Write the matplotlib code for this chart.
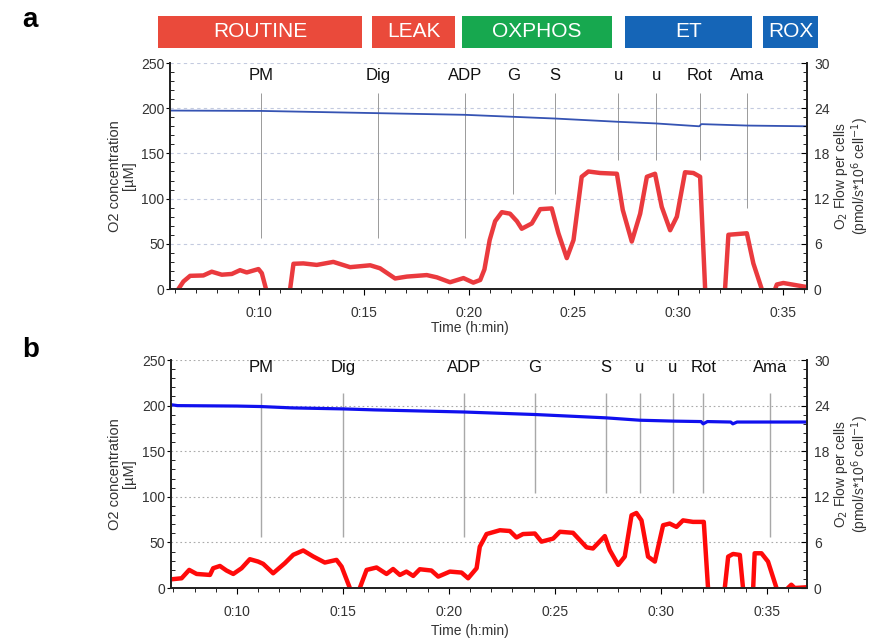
import matplotlib
matplotlib.use("Agg")
import matplotlib.pyplot as plt
import matplotlib.transforms as mtransforms
from matplotlib.ticker import MultipleLocator, FuncFormatter
import numpy as np

plt.rcParams['font.family'] = ['Liberation Sans', 'DejaVu Sans']

nan = np.nan

# ---- phase banner (panel a, minutes) ----
phase_names = ['ROUTINE', 'LEAK', 'OXPHOS', 'ET', 'ROX']
phase_start = [5.18, 15.39, 19.69, 27.46, 34.05]
phase_end = [14.91, 19.35, 26.84, 33.52, 36.67]
phase_colors = ['#ea4a3b', '#ea4a3b', '#17a84f', '#1565b7', '#1565b7']

# ---- panel a ----
a_xlim = (5.75, 36.14)
a_events = ['PM', 'Dig', 'ADP', 'G', 'S', 'u', 'u', 'Rot', 'Ama']
a_event_t = [10.1, 15.68, 19.83, 22.12, 24.12, 27.13, 28.94, 31.04, 33.28]
a_event_bottom = [56, 56, 56, 105, 105, 143, 143, 143, 90]
a_event_top = 217

a_o2_t = [5.75, 10.1, 15.7, 19.8, 24.1, 27.1, 28.9, 31.0, 31.1, 33.3, 36.14]
a_o2 = [197.4, 197.0, 194.5, 192.7, 188.6, 185.0, 183.2, 180.0, 182.4, 180.8, 180.0]

a_flow_t = [6.15, 6.39, 6.71, 7.34, 7.74, 8.22, 8.7, 9.09, 9.41, 9.97, 10.13, 10.33, 10.9,
            11.48, 11.64, 12.11, 12.75, 13.54, 14.34, 15.3, 15.77, 16.49, 17.05, 18.0,
            18.48, 19.11, 19.75, 20.22, 20.55, 20.75, 21.0, 21.26, 21.58, 21.97, 22.3,
            22.53, 23.01, 23.41, 23.96, 24.28, 24.68, 25.0, 25.39, 25.71, 26.27, 27.07,
            27.35, 27.78, 28.18, 28.5, 28.89, 29.21, 29.61, 29.93, 30.32, 30.72, 31.04,
            31.28, 31.8, 32.23, 32.39, 33.27, 33.58, 33.98, 34.3, 34.62, 34.7, 35.01,
            36.05, 36.14]
a_flow = [0, 1.0, 1.75, 1.8, 2.3, 1.9, 2.0, 2.5, 2.2, 2.65, 2.1, 0, nan,
          0, 3.35, 3.4, 3.2, 3.6, 2.9, 3.15, 2.75, 1.4, 1.65, 1.85,
          1.55, 0.9, 1.45, 0.85, 1.2, 2.6, 6.5, 9.0, 10.2, 10.0, 9.0,
          8.0, 8.7, 10.6, 10.7, 7.4, 4.1, 6.5, 14.9, 15.6, 15.4, 15.3,
          10.5, 6.3, 10.0, 14.9, 15.3, 10.9, 7.8, 9.6, 15.5, 15.4, 14.9,
          0, nan, 0, 7.2, 7.4, 3.4, 0, nan, 0, 0.6, 0.8,
          0.3, 0.3]

# ---- panel b ----
b_xlim = (6.89, 36.9)
b_events = ['PM', 'Dig', 'ADP', 'G', 'S', 'u', 'u', 'Rot', 'Ama']
b_event_t = [11.12, 15.02, 20.7, 24.07, 27.4, 29.0, 30.57, 32.0, 35.14]
b_event_bottom = [56, 56, 56, 104, 104, 104, 104, 104, 56]
b_event_top = 214

b_o2_t = [6.89, 7.2, 10.0, 11.1, 12.6, 15.0, 16.5, 20.7, 24.1, 27.4, 29.0, 30.6,
          31.9, 32.0, 32.2, 33.3, 33.4, 33.6, 36.9]
b_o2 = [201, 200, 199.5, 199, 197.5, 196.4, 195.3, 193, 190.2, 186.6, 184, 183,
        182.5, 180, 182.5, 182, 180, 182, 182]

b_flow_t = [6.92, 7.39, 7.75, 8.1, 8.73, 8.88, 9.2, 9.51, 9.83, 10.22, 10.61, 11.0,
            11.24, 11.71, 12.26, 12.66, 13.13, 13.6, 14.15, 14.7, 14.94, 15.33, 15.6,
            15.8, 16.12, 16.59, 17.06, 17.37, 17.69, 18.0, 18.32, 18.63, 19.18, 19.5,
            20.05, 20.6, 20.91, 21.31, 21.46, 21.78, 22.41, 22.88, 23.19, 23.5, 24.06,
            24.37, 24.92, 25.24, 25.86, 26.5, 26.8, 27.36, 27.59, 27.99, 28.3, 28.62,
            28.85, 29.09, 29.4, 29.72, 30.11, 30.42, 30.74, 31.05, 31.52, 32.03, 32.23,
            32.6, 33.02, 33.18, 33.41, 33.73, 33.88, 34.1, 34.36, 34.43, 34.75, 35.06,
            35.46, 35.7, 36.0, 36.16, 36.32, 36.9]
b_flow = [1.15, 1.28, 2.38, 1.85, 1.72, 2.6, 2.9, 2.3, 1.85, 2.6, 3.79, 3.48,
          3.18, 1.94, 3.26, 4.37, 4.94, 4.15, 3.35, 3.7, 2.82, 0, nan,
          0, 2.38, 2.7, 1.85, 2.5, 1.72, 2.16, 1.59, 2.47, 2.3, 1.5,
          2.16, 2.03, 1.28, 2.6, 5.43, 7.1, 7.6, 7.5, 6.65, 7.1, 7.17,
          6.1, 6.5, 7.4, 7.26, 5.35, 5.2, 6.83, 5.0, 3.04, 4.13, 9.57,
          9.87, 8.9, 4.13, 3.48, 8.26, 8.48, 8.04, 8.9, 8.7, 8.7, 0,
          nan, 0, 4.13, 4.48, 4.35, 0, nan, 0, 4.57, 4.57, 3.48,
          0, nan, 0, 0.43, 0, 0.1]

fig = plt.figure(figsize=(8.75, 6.39), dpi=100)


def time_fmt(v, pos):
    return "0:%02d" % int(round(v))


def draw_panel(rect, xlim, o2_t, o2, flow_t, flow, events, event_t, ev_bottom, ev_top,
               label_y, style):
    ax = fig.add_axes(rect)
    ax2 = ax.twinx()
    ax.set_xlim(*xlim)
    ax.set_ylim(0, 250)
    ax2.set_ylim(0, 30)

    ax.set_yticks([0, 50, 100, 150, 200, 250])
    ax.yaxis.set_minor_locator(MultipleLocator(10))
    ax2.set_yticks([0, 6, 12, 18, 24, 30])
    ax2.yaxis.set_minor_locator(MultipleLocator(1.2))
    ax.xaxis.set_major_locator(MultipleLocator(5))
    ax.xaxis.set_minor_locator(MultipleLocator(1))
    ax.xaxis.set_major_formatter(FuncFormatter(time_fmt))

    for a in (ax, ax2):
        a.spines['top'].set_visible(False)
        for s in ('left', 'right', 'bottom'):
            a.spines[s].set_linewidth(1.3)
            a.spines[s].set_color('#222222')
    ax.tick_params(axis='y', which='major', direction='out', length=3, labelsize=10,
                   labelcolor='#333333', pad=1)
    ax.tick_params(axis='y', which='minor', direction='in', length=3)
    ax2.tick_params(axis='y', which='major', direction='in', length=4, labelsize=10,
                    labelcolor='#333333', pad=5)
    ax2.tick_params(axis='y', which='minor', direction='in', length=3)
    ax.tick_params(axis='x', which='major', direction='out', length=4, labelsize=10,
                   labelcolor='#333333', pad=8)
    ax.tick_params(axis='x', which='minor', direction='out', length=3)

    ax.grid(axis='y', color=style['grid'], linestyle=style['gridls'], linewidth=0.8)
    ax.set_axisbelow(True)

    ax.vlines(event_t, ev_bottom, ev_top, color=style['ev'], linewidth=style['evlw'])
    for name, t in zip(events, event_t):
        ax.text(t, label_y, name, ha='center', va='center', fontsize=12, color='#111111')

    ax.plot(o2_t, o2, color=style['blue'], linewidth=style['bluelw'])
    ax2.plot(flow_t, flow, color=style['red'], linewidth=3.2, solid_capstyle='round',
             solid_joinstyle='round')

    ax.set_ylabel("O2 concentration\n[µM]", fontsize=10.5, color='#333333',
                  linespacing=1.0, labelpad=4)
    ax2.set_ylabel("O$_2$ Flow per cells\n(pmol/s*10$^6$ cell$^{-1}$)", fontsize=10,
                   color='#333333', linespacing=0.95, labelpad=2)
    ax.set_xlabel("Time (h:min)", fontsize=10, color='#333333', labelpad=1)
    ax.xaxis.set_label_coords(0.47, style['xlab_y'])
    return ax


style_a = dict(grid='#c3cadf', gridls=(0, (3, 3)), ev='#9a9a9a', evlw=0.7,
               blue='#3553b3', bluelw=1.3, red='#ea3a3e', xlab_y=-0.14)
style_b = dict(grid='#aaaaaa', gridls=(0, (1.5, 2.5)), ev='#a8a8a8', evlw=1.0,
               blue='#1010ee', bluelw=2.3, red='#ff0a0a', xlab_y=-0.16)

ax_a = draw_panel([0.1943, 0.5477, 0.728, 0.3537], a_xlim, a_o2_t, a_o2, a_flow_t, a_flow,
                  a_events, a_event_t, a_event_bottom, a_event_top, 236, style_a)
ax_b = draw_panel([0.1954, 0.0798, 0.7269, 0.3568], b_xlim, b_o2_t, b_o2, b_flow_t, b_flow,
                  b_events, b_event_t, b_event_bottom, b_event_top, 242, style_b)

# phase banner above panel a
trans = mtransforms.blended_transform_factory(ax_a.transData, fig.transFigure)
for name, s, e, c in zip(phase_names, phase_start, phase_end, phase_colors):
    rect = plt.Rectangle((s, 0.9249), e - s, 0.0501, transform=trans, facecolor=c,
                         edgecolor='none', clip_on=False)
    fig.add_artist(rect)
    fig.text((s + e) / 2, 0.95, name, transform=trans, ha='center', va='center',
             color='white', fontsize=15)

fig.text(0.025, 0.968, 'a', fontsize=20, fontweight='bold', ha='left', va='center')
fig.text(0.025, 0.452, 'b', fontsize=20, fontweight='bold', ha='left', va='center')

fig.savefig('out.png', dpi=100)
